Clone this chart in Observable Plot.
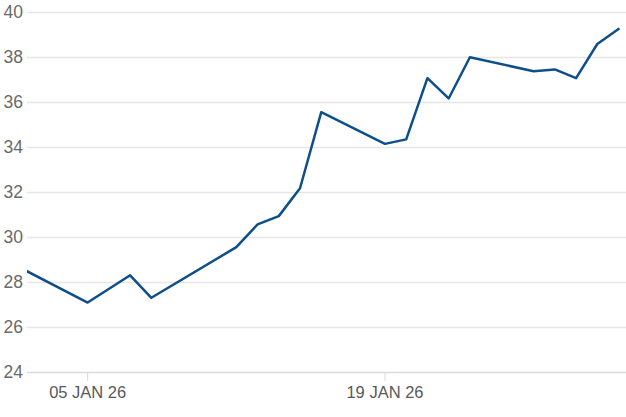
<!DOCTYPE html>
<html>
<head>
<meta charset="utf-8">
<script src="https://cdn.jsdelivr.net/npm/d3@7"></script>
<script src="https://cdn.jsdelivr.net/npm/@observablehq/plot@0.6"></script>
<style>
  html, body { margin: 0; padding: 0; background: #fff; }
  #chart svg { display: block; }
</style>
</head>
<body>
<div id="chart"></div>
<script>
const days = [2, 5, 7, 8, 12, 13, 14, 15, 16, 19, 20, 21, 22, 23, 26, 27, 28, 29, 30];
const values = [28.57, 27.11, 28.32, 27.32, 29.57, 30.58, 30.95, 32.19, 35.57, 34.16, 34.36, 37.08, 36.18, 38.01, 37.39, 37.47, 37.08, 38.60, 39.27];
const yTicks = [24, 26, 28, 30, 32, 34, 36, 38, 40];
const xTickDays = [5, 19];

const data = days.map((d, i) => ({date: new Date(Date.UTC(2026, 0, d)), value: values[i]}));
const xTicks = xTickDays.map(d => new Date(Date.UTC(2026, 0, d)));
const fmt = d3.utcFormat("%d %b %y");

const chart = Plot.plot({
  width: 626,
  height: 417,
  marginLeft: 27,
  marginRight: 0,
  marginTop: 12,
  marginBottom: 45,
  style: {fontFamily: "'Liberation Sans', Arial, sans-serif", background: "#fff"},
  x: {type: "utc", domain: [new Date(Date.UTC(2026, 0, 2, 4)), new Date(Date.UTC(2026, 0, 30, 9))], axis: null},
  y: {domain: [24, 40], axis: null},
  marks: [
    Plot.ruleY(yTicks.filter(t => t !== 24), {stroke: "#e6e6e6", strokeWidth: 1.5}),
    Plot.ruleY([24], {stroke: "#d6dce4", strokeWidth: 1.5}),
    Plot.text(yTicks, {y: d => d, text: d => String(d), frameAnchor: "left", dx: -24, textAnchor: "start", fontSize: 17.5, fill: "#6a6a6a"}),
    Plot.axisX({ticks: xTicks, tickFormat: d => fmt(d).toUpperCase(), tickSize: 9, stroke: "#d6dce4", tickPadding: 5, fontSize: 16.5, fill: "#595959", label: null}),
    Plot.line(data, {x: "date", y: "value", stroke: "#0e4f8b", strokeWidth: 2.5, clip: true})
  ]
});
document.getElementById("chart").appendChild(chart);
</script>
</body>
</html>
